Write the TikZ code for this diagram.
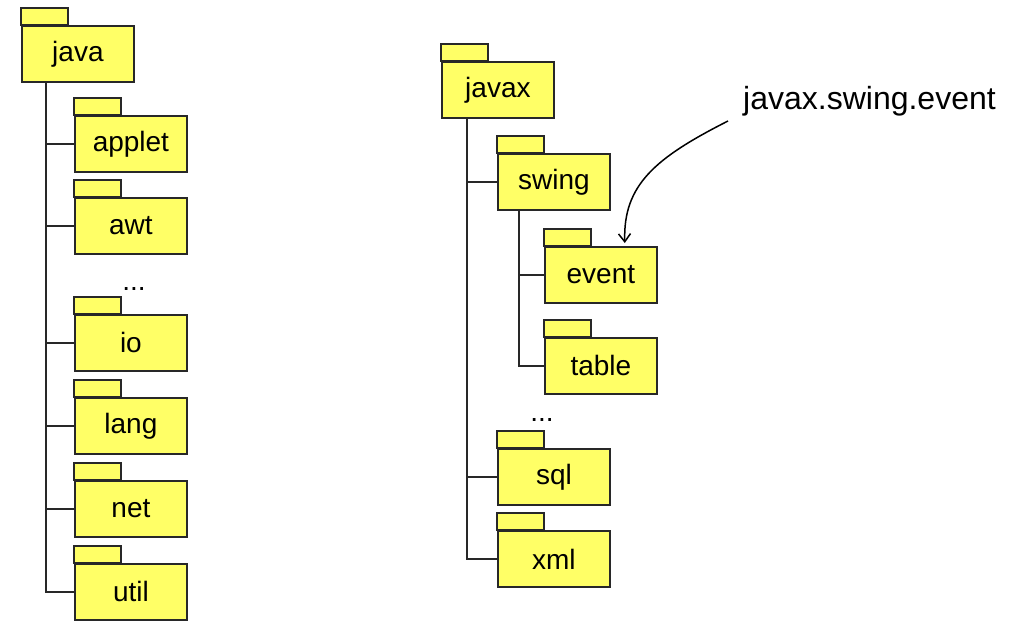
\documentclass[tikz,border=0pt]{standalone}
\usepackage{fontspec}
\setmainfont{Liberation Sans}
\usepackage{tikz}
\usetikzlibrary{positioning,calc}
\usetikzlibrary{arrows.meta}

\definecolor{pkgyellow}{RGB}{255,255,102}
\definecolor{pkgline}{RGB}{40,40,40}

\tikzset{
  pkgbox/.style={draw=pkgline, fill=pkgyellow, line width=1.8pt, anchor=north west,
    minimum width=112pt, minimum height=56pt, inner sep=0pt,
    font=\fontsize{28}{30}\selectfont},
  pkgtab/.style={draw=pkgline, fill=pkgyellow, line width=1.8pt},
  branch/.style={pkgline, line width=1.6pt},
  callarrow/.style={black, line width=1.5pt, -{Straight Barb[length=8pt,width=12pt]}}
}

% package folder: name, x, y (top left of body), text
\newcommand{\pkg}[4]{%
  \draw[pkgtab] (#2,#3) rectangle (#2+47,#3-17);
  \node[pkgbox] (#1) at (#2,#3) {#4};
}

\begin{document}
\begin{tikzpicture}[x=1pt,y=-1pt]
        \useasboundingbox (0,0) rectangle (1020,626);
        % java tree
        \pkg{java}{21}{25}{java}
        \pkg{applet}{74}{115}{applet}
        \pkg{awt}{74}{197}{awt}
        \pkg{io}{74}{314}{io}
        \pkg{lang}{74}{397}{lang}
        \pkg{net}{74}{480}{net}
        \pkg{util}{74}{563}{util}
        \node[font=\fontsize{28}{30}\selectfont, anchor=base] (jdots) at (134,290) {...};
        \coordinate (jtrunk) at ($(java.south west)+(25,0)$);
        \draw[branch] (jtrunk) |- (util.west);
        \foreach \p in {applet,awt,io,lang,net}
            \draw[branch] (jtrunk |- \p.west) -- (\p.west);
        % javax tree
        \pkg{javax}{441}{61}{javax}
        \pkg{swing}{497}{153}{swing}
        \pkg{event}{544}{246}{event}
        \pkg{table}{544}{337}{table}
        \pkg{sql}{497}{448}{sql}
        \pkg{xml}{497}{530}{xml}
        \node[font=\fontsize{28}{30}\selectfont, anchor=base] (xdots) at (542,421) {...};
        \coordinate (xtrunk) at ($(javax.south west)+(26,0)$);
        \draw[branch] (xtrunk) |- (xml.west);
        \foreach \p in {swing,sql}
            \draw[branch] (xtrunk |- \p.west) -- (\p.west);
        \coordinate (strunk) at ($(swing.south west)+(22,0)$);
        \draw[branch] (strunk) |- (table.west);
        \draw[branch] (strunk |- event.west) -- (event.west);
        % callout
        \node[font=\fontsize{32}{34}\selectfont, anchor=base west, inner sep=0pt] (callout) at (743,110) {javax.swing.event};
        \coordinate (cstart) at (728,121);
        \coordinate (ctip) at ($(event.north east)+(-33,-3)$);
        \draw[callarrow] (cstart) .. controls (655,158) and (623,185) .. (ctip);
\end{tikzpicture}
\end{document}
